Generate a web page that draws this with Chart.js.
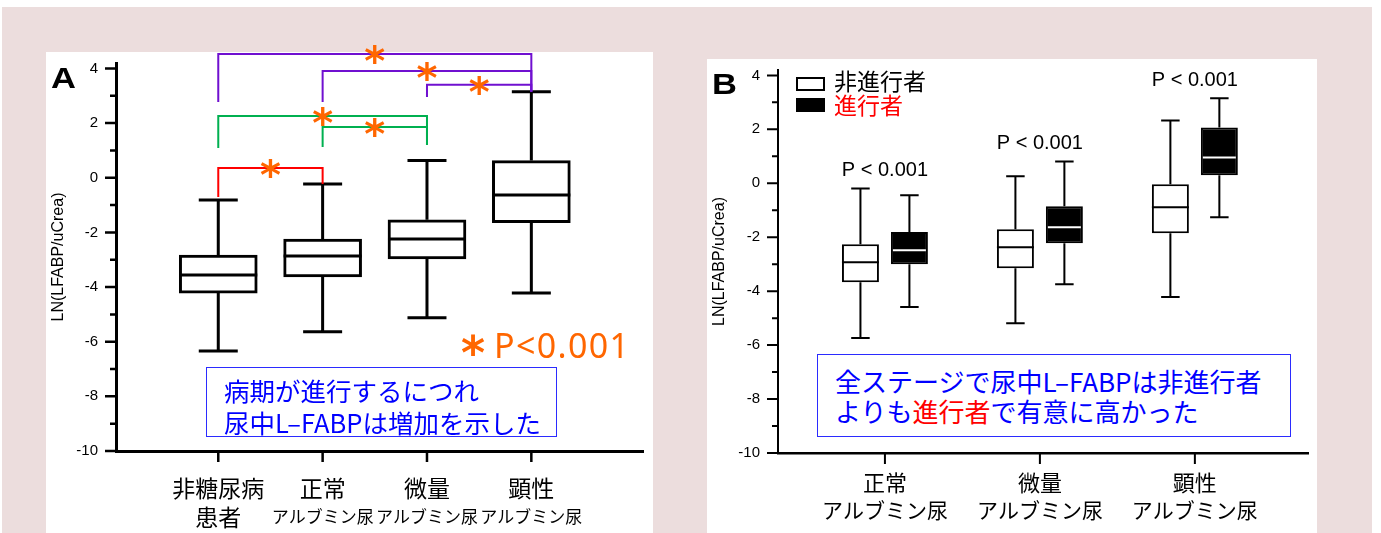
<!DOCTYPE html>
<html>
<head>
<meta charset="utf-8">
<script src="https://cdn.jsdelivr.net/npm/chart.js@4.4.1/dist/chart.umd.min.js"></script>
<style>
  body { margin: 0; background: #fff; width: 1381px; height: 533px; position: relative; overflow: hidden; }
  #bg { position: absolute; left: 2px; top: 7px; width: 1370px; height: 526px; background: #ecdddd; }
  .panel { position: absolute; background: #fff; }
  #panelA { left: 46px; top: 52px; width: 607px; height: 481px; }
  #panelB { left: 707px; top: 59px; width: 610px; height: 474px; }
  canvas { position: absolute; }
  #chartA { left: 46px; top: 40px; }
  #chartB { left: 707px; top: 59px; }
  .note { position: absolute; box-sizing: border-box; border: 1.5px solid #2b2bff; background: #fff;
          color: #0000ff; font-family: "Noto Sans CJK JP", sans-serif; white-space: nowrap; }
  .red { color: #ff0000; }
</style>
</head>
<body>
<div id="bg"></div>
<div class="panel" id="panelA"></div>
<div class="panel" id="panelB"></div>
<canvas id="chartA" width="607" height="493"></canvas>
<canvas id="chartB" width="610" height="474"></canvas>
<div class="note" style="left:206px;top:367px;width:351px;height:70px;font-size:25.5px;line-height:32px;padding:6px 0 0 17px">病期が進行するにつれ<br>尿中L–FABPは増加を示した</div>
<div class="note" style="left:817px;top:354px;width:474px;height:83px;font-size:26px;line-height:30px;padding:11px 0 0 17px">全ステージで尿中L–FABPは非進行者<br>よりも<span class="red">進行者</span>で有意に高かった</div>

<script>
// ---- data: panel A (all groups) ----
const stagesA = [['非糖尿病', '患者'], ['正常', 'アルブミン尿'], ['微量', 'アルブミン尿'], ['顕性', 'アルブミン尿']];
const lowA = [-6.34, -5.64, -5.12, -4.22];
const q1A = [-4.22, -3.63, -2.97, -1.64];
const medA = [-3.56, -2.86, -2.24, -0.63];
const q3A = [-2.83, -2.24, -1.54, 0.63];
const highA = [-0.81, -0.23, 0.63, 3.15];

// significance brackets in A (group numbers and levels on the y axis)
const sigFrom = [1, 2, 3, 1, 2, 1];
const sigTo = [4, 4, 4, 3, 3, 2];
const sigTop = [4.53, 3.91, 3.40, 2.26, 1.86, 0.36];
const sigLeftEnd = [2.77, 2.77, 2.96, 1.09, 1.13, -0.70];
const sigRightEnd = [3.15, 3.15, 3.15, 1.20, 1.20, -0.23];
const sigColors = ['#7010d0', '#7010d0', '#7010d0', '#00b050', '#00b050', '#ff0000'];

// ---- data: panel B (non-progressors vs progressors) ----
const stagesB = [['正常', 'アルブミン尿'], ['微量', 'アルブミン尿'], ['顕性', 'アルブミン尿']];
const lowNon = [-5.74, -5.19, -4.22];
const q1Non = [-3.67, -3.15, -1.85];
const medNon = [-2.93, -2.37, -0.89];
const q3Non = [-2.26, -1.70, -0.04];
const highNon = [-0.19, 0.26, 2.33];
const lowProg = [-4.59, -3.74, -1.26];
const q1Prog = [-3.00, -2.22, 0.30];
const medProg = [-2.48, -1.63, 0.96];
const q3Prog = [-1.81, -0.85, 2.07];
const highProg = [-0.44, 0.81, 3.15];
const pLabelsB = ['P < 0.001', 'P < 0.001', 'P < 0.001'];

const yTicks = [-10, -9, -8, -7, -6, -5, -4, -3, -2, -1, 0, 1, 2, 3, 4];

const JP = '"Noto Sans CJK JP", sans-serif';
const SANS = '"Liberation Sans", Arial, sans-serif';
const ORANGE = '#ff6600';

function boxData(q1, q3) {
  return q1.map((v, i) => ({ x: i + 1, y: [v, q3[i]] }));
}

// whiskers under the boxes, medians on top
const boxWhiskers = {
  id: 'boxWhiskers',
  beforeDatasetsDraw(chart) {
    const ctx = chart.ctx, y = chart.scales.y;
    chart.data.datasets.forEach((ds, di) => {
      ctx.save();
      ctx.strokeStyle = '#000';
      ctx.lineWidth = ds.borderWidth;
      chart.getDatasetMeta(di).data.forEach((bar, i) => {
        const cap = bar.width / 4;
        const yHi = y.getPixelForValue(ds.high[i]), yLo = y.getPixelForValue(ds.low[i]);
        const yQ3 = y.getPixelForValue(ds.data[i].y[1]), yQ1 = y.getPixelForValue(ds.data[i].y[0]);
        ctx.beginPath();
        ctx.moveTo(bar.x, yQ3); ctx.lineTo(bar.x, yHi);
        ctx.moveTo(bar.x - cap, yHi); ctx.lineTo(bar.x + cap, yHi);
        ctx.moveTo(bar.x, yQ1); ctx.lineTo(bar.x, yLo);
        ctx.moveTo(bar.x - cap, yLo); ctx.lineTo(bar.x + cap, yLo);
        ctx.stroke();
      });
      ctx.restore();
    });
  },
  afterDatasetsDraw(chart) {
    const ctx = chart.ctx, y = chart.scales.y;
    chart.data.datasets.forEach((ds, di) => {
      ctx.save();
      ctx.strokeStyle = ds.medianColor;
      ctx.lineWidth = ds.borderWidth;
      chart.getDatasetMeta(di).data.forEach((bar, i) => {
        const ym = y.getPixelForValue(ds.median[i]);
        const inset = ds.medianColor === '#000' ? 0 : ds.borderWidth;
        ctx.beginPath();
        ctx.moveTo(bar.x - bar.width / 2 + inset, ym);
        ctx.lineTo(bar.x + bar.width / 2 - inset, ym);
        ctx.stroke();
      });
      ctx.restore();
    });
  }
};

function drawStar(ctx, x, y, px) {
  ctx.save();
  ctx.font = `bold ${px}px "DejaVu Sans"`;
  ctx.fillStyle = ORANGE;
  ctx.textAlign = 'center';
  ctx.textBaseline = 'alphabetic';
  const m = ctx.measureText('*');
  const dx = (m.actualBoundingBoxRight - m.actualBoundingBoxLeft) / 2;
  const dy = (m.actualBoundingBoxAscent - m.actualBoundingBoxDescent) / 2;
  ctx.fillText('*', x - dx, y + dy);
  ctx.restore();
}

function drawAxisTicks(chart, width) {
  const ctx = chart.ctx, y = chart.scales.y, x = chart.scales.x;
  const left = chart.chartArea.left, bottom = chart.chartArea.bottom;
  ctx.save();
  ctx.strokeStyle = '#000';
  ctx.lineWidth = width;
  ctx.beginPath();
  yTicks.forEach(v => {
    const py = y.getPixelForValue(v);
    ctx.moveTo(left - (v % 2 === 0 ? 11 : 6), py);
    ctx.lineTo(left, py);
  });
  x.ticks.forEach(t => {
    const px = x.getPixelForValue(t.value);
    ctx.moveTo(px, bottom);
    ctx.lineTo(px, bottom + 11);
  });
  ctx.stroke();
  ctx.restore();
}

function drawCategories(chart, stages, y1, y2, size1, size2) {
  const ctx = chart.ctx, x = chart.scales.x;
  ctx.save();
  ctx.fillStyle = '#000';
  ctx.textAlign = 'center';
  ctx.textBaseline = 'middle';
  stages.forEach((s, i) => {
    const px = x.getPixelForValue(i + 1);
    ctx.font = `${size1}px ${JP}`;
    ctx.fillText(s[0], px, y1);
    ctx.font = `${size2(i)}px ${JP}`;
    ctx.fillText(s[1], px, y2);
  });
  ctx.restore();
}

function drawLetter(ctx, letter, x, y) {
  ctx.save();
  ctx.translate(x, y);
  ctx.scale(1.15, 1);
  ctx.font = `bold 30px ${SANS}`;
  ctx.fillStyle = '#000';
  ctx.fillText(letter, 0, 0);
  ctx.restore();
}

function yScale(width, lineW) {
  return {
    min: -10, max: 4.2,
    afterBuildTicks: s => { s.ticks = yTicks.map(v => ({ value: v })); },
    afterFit: s => { s.width = width; s.paddingTop = 0; s.paddingBottom = 0; },
    grid: { display: false, drawTicks: false },
    border: { display: true, color: '#000', width: lineW },
    ticks: { padding: 18, autoSkip: false, color: '#000', font: { family: SANS, size: 15 },
             callback: v => (v % 2 === 0 ? v : '') },
    title: { display: true, text: 'LN(LFABP/uCrea)', color: '#000', font: { family: SANS, size: 16 },
             padding: { top: 3, bottom: 0 } }
  };
}

function xScale(stages, min, max, height, lineW) {
  return {
    type: 'linear', min: min, max: max, offset: false,
    afterBuildTicks: s => { s.ticks = stages.map((_, i) => ({ value: i + 1 })); },
    afterFit: s => { s.height = height; s.paddingLeft = 0; s.paddingRight = 0; },
    grid: { display: false, drawTicks: false },
    border: { display: true, color: '#000', width: lineW },
    ticks: { display: false }
  };
}

// ---- chart A ----
const decorA = {
  id: 'decorA',
  afterDraw(chart) {
    const ctx = chart.ctx, x = chart.scales.x, y = chart.scales.y;
    drawAxisTicks(chart, 2.5);
    drawCategories(chart, stagesA, 448, 477, 23, i => (i === 0 ? 23 : 17));

    ctx.save();
    ctx.lineWidth = 2;
    sigFrom.forEach((f, i) => {
      const x1 = x.getPixelForValue(f), x2 = x.getPixelForValue(sigTo[i]);
      const yt = y.getPixelForValue(sigTop[i]);
      ctx.strokeStyle = sigColors[i];
      ctx.beginPath();
      ctx.moveTo(x1, y.getPixelForValue(sigLeftEnd[i]));
      ctx.lineTo(x1, yt);
      ctx.lineTo(x2, yt);
      ctx.lineTo(x2, y.getPixelForValue(sigRightEnd[i]));
      ctx.stroke();
    });
    ctx.restore();
    sigFrom.forEach((f, i) => {
      drawStar(ctx, x.getPixelForValue((f + sigTo[i]) / 2), y.getPixelForValue(sigTop[i]), 40);
    });

    // "* P<0.001" key
    drawStar(ctx, 427, 305, 46);
    ctx.save();
    ctx.font = `34px "Noto Sans", ${SANS}`;
    ctx.fillStyle = ORANGE;
    const w = ctx.measureText('P<0.001').width;
    ctx.letterSpacing = Math.max(0, (135 - w) / 6).toFixed(2) + 'px';
    ctx.fillText('P<0.001', 448, 318);
    ctx.restore();

    drawLetter(ctx, 'A', 5, 48);
  }
};

new Chart(document.getElementById('chartA'), {
  type: 'bar',
  data: {
    datasets: [{
      data: boxData(q1A, q3A),
      low: lowA, high: highA, median: medA, medianColor: '#000',
      backgroundColor: '#fff', borderColor: '#000', borderWidth: 3, borderSkipped: false,
      barThickness: 78
    }]
  },
  options: {
    responsive: false, animation: false,
    layout: { padding: { left: 0, top: 23, right: 10, bottom: 0 } },
    plugins: { legend: { display: false }, tooltip: { enabled: false } },
    scales: { x: xScale(stagesA, 0.02, 5.07, 82, 3), y: yScale(70, 3) }
  },
  plugins: [boxWhiskers, decorA]
});

// ---- chart B ----
const decorB = {
  id: 'decorB',
  afterDraw(chart) {
    const ctx = chart.ctx, x = chart.scales.x, y = chart.scales.y;
    drawAxisTicks(chart, 2);
    drawCategories(chart, stagesB, 424, 451, 22, () => 21);

    ctx.save();
    ctx.font = `20px ${SANS}`;
    ctx.fillStyle = '#000';
    ctx.textAlign = 'center';
    ctx.textBaseline = 'middle';
    pLabelsB.forEach((t, i) => {
      const top = Math.min(y.getPixelForValue(highNon[i]), y.getPixelForValue(highProg[i]));
      ctx.fillText(t, x.getPixelForValue(i + 1), top - 18);
    });

    // legend
    ctx.lineWidth = 2;
    ctx.strokeStyle = '#000';
    ctx.fillStyle = '#fff';
    ctx.fillRect(90, 19, 27, 12);
    ctx.strokeRect(90, 19, 27, 12);
    ctx.fillStyle = '#000';
    ctx.fillRect(89, 39, 29, 14);
    ctx.textAlign = 'left';
    ctx.font = `23px ${JP}`;
    ctx.fillText('非進行者', 127, 22);
    ctx.fillStyle = '#ff0000';
    ctx.fillText('進行者', 127, 46);
    ctx.restore();

    drawLetter(ctx, 'B', 5, 35);
  }
};

new Chart(document.getElementById('chartB'), {
  type: 'bar',
  data: {
    datasets: [{
      data: boxData(q1Non, q3Non),
      low: lowNon, high: highNon, median: medNon, medianColor: '#000',
      backgroundColor: '#fff', borderColor: '#000', borderWidth: 2, borderSkipped: false,
      categoryPercentage: 0.632, barPercentage: 0.755
    }, {
      data: boxData(q1Prog, q3Prog),
      low: lowProg, high: highProg, median: medProg, medianColor: '#fff',
      backgroundColor: '#000', borderColor: '#000', borderWidth: 2, borderSkipped: false,
      categoryPercentage: 0.632, barPercentage: 0.755
    }]
  },
  options: {
    responsive: false, animation: false,
    layout: { padding: { left: 0, top: 11, right: 9, bottom: 0 } },
    plugins: { legend: { display: false }, tooltip: { enabled: false } },
    scales: { x: xScale(stagesB, 0.31, 3.73, 80, 2.5), y: yScale(71, 2) }
  },
  plugins: [boxWhiskers, decorB]
});
</script>
</body>
</html>
